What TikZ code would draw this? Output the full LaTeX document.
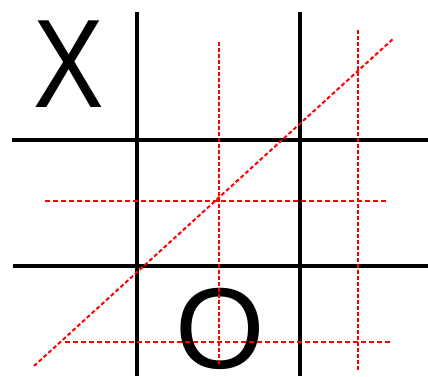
\documentclass[tikz,border=0pt]{standalone}
\usepackage{fontspec}
\setmainfont{Liberation Sans}
\begin{document}
\begin{tikzpicture}[x=1pt,y=-1pt,
  gridline/.style={line width=3.4pt,black},
  hguide/.style={red,line width=2pt,dash pattern=on 5pt off 3pt},
  vguide/.style={red,line width=2pt,dash pattern=on 3.5pt off 2.5pt},
  dguide/.style={red,line width=2pt,dash pattern=on 4pt off 2.5pt},
  glyph/.style={inner sep=0pt,outer sep=0pt,text=black}]
\useasboundingbox[fill=white] (0,0) rectangle (428,376);
% grid
\draw[gridline] (137,12) -- (137,376);
\draw[gridline] (300,12) -- (300,376);
\draw[gridline] (12,140) -- (428,140);
\draw[gridline] (13,266) -- (428,266);
% marks
\node[glyph,xscale=0.84] (x) at (69,64) {\fontsize{126}{126}\selectfont X};
\node[glyph] (o) at (220,329) {\fontsize{115}{115}\selectfont O};
% guides
\coordinate (v1a) at (219,42); \coordinate (v1b) at (219,366);
\coordinate (v2a) at (358,30); \coordinate (v2b) at (358,370);
\coordinate (h1a) at (45,201); \coordinate (h1b) at (388,201);
\coordinate (h2a) at (65,342); \coordinate (h2b) at (391,342);
\coordinate (da) at (34,366); \coordinate (db) at (394,38);
\draw[vguide] (v1a) -- (v1b);
\draw[vguide] (v2a) -- (v2b);
\draw[hguide] (h1a) -- (h1b);
\draw[hguide] (h2a) -- (h2b);
\draw[dguide] (da) -- (db);
\end{tikzpicture}
\end{document}
